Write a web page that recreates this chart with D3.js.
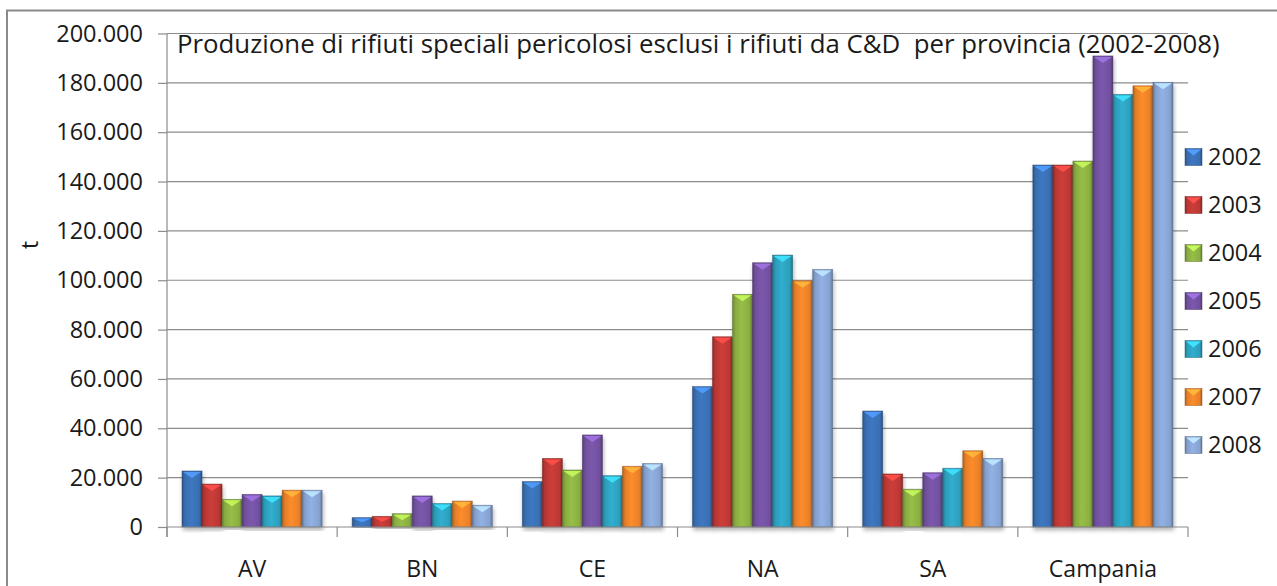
<!DOCTYPE html>
<html>
<head>
<meta charset="utf-8">
<script src="https://cdn.jsdelivr.net/npm/d3@7"></script>
<style>
    body { margin: 0; background: #fff; }
    svg text { font-family: "Open Sans", sans-serif; fill: #1a1a1a; }
</style>
</head>
<body>
<div id="chart"></div>
<script>
// data (tonnes)
var provinces = ["AV", "BN", "CE", "NA", "SA", "Campania"];
var years = ["2002", "2003", "2004", "2005", "2006", "2007", "2008"];
var v2002 = [22700, 3800, 18400, 56900, 47000, 146700];
var v2003 = [17400, 4300, 27800, 77100, 21500, 146700];
var v2004 = [11200, 5400, 23100, 94300, 15300, 148300];
var v2005 = [13200, 12600, 37300, 107100, 22000, 190900];
var v2006 = [12600, 9500, 20800, 110200, 23800, 175300];
var v2007 = [14900, 10500, 24600, 99800, 30900, 178800];
var v2008 = [14900, 8800, 25700, 104400, 27800, 180200];
var yTicks = [0, 20000, 40000, 60000, 80000, 100000, 120000, 140000, 160000, 180000, 200000];
var colours = ["#3b72b8", "#c23a36", "#8fb443", "#7553a4", "#2ea5c3", "#f0852a", "#8aa8d8"];
var title = "Produzione di rifiuti speciali pericolosi esclusi i rifiuti da C&D  per provincia (2002-2008)";

window.onload = function(){
    drawChart();
};

function drawChart(){
    var series = [v2002, v2003, v2004, v2005, v2006, v2007, v2008];

    var svg = d3.select("#chart").append("svg").attr("width", 1277).attr("height", 586);
    var defs = svg.append("defs");

    // plot area
    var left = 167, right = 1188, top = 33.5, bottom = 527;

    var xScale = d3.scaleBand()
                   .domain(provinces)
                   .range([left, right]);

    var xInner = d3.scaleBand()
                   .domain(years)
                   .range([0, xScale.bandwidth()])
                   .paddingOuter(0.75);

    var yScale = d3.scaleLinear()
                   .domain([0, 200000])
                   .range([bottom, top]);

    var it = d3.formatLocale({decimal: ",", thousands: ".", grouping: [3], currency: ["", "€"]});
    var fmt = it.format(",d");

    // gradients for the bevelled bars
    colours.forEach(function(c, i){
        var base = d3.color(c);
        var g = defs.append("linearGradient").attr("id", "grad" + i)
                    .attr("x1", 0).attr("x2", 1).attr("y1", 0).attr("y2", 0);
        g.append("stop").attr("offset", "0%").attr("stop-color", base.darker(0.9));
        g.append("stop").attr("offset", "14%").attr("stop-color", base.darker(0.15));
        g.append("stop").attr("offset", "45%").attr("stop-color", base.brighter(0.15));
        g.append("stop").attr("offset", "86%").attr("stop-color", base.darker(0.1));
        g.append("stop").attr("offset", "100%").attr("stop-color", base.darker(1.0));
    });

    var f = defs.append("filter").attr("id", "shadow")
                .attr("x", "-20%").attr("y", "-5%").attr("width", "140%").attr("height", "115%");
    f.append("feDropShadow").attr("dx", 1).attr("dy", 3).attr("stdDeviation", 2.2)
     .attr("flood-color", "#000").attr("flood-opacity", 0.3);

    // outer border
    svg.append("rect")
        .attr("x", 7).attr("y", 10.5)
        .attr("width", 1290).attr("height", 600)
        .attr("fill", "none")
        .attr("stroke", "#8a8a8a")
        .attr("stroke-width", 2);

    // gridlines
    svg.append("g").selectAll("line")
        .data(yTicks.filter(function(d){ return d > 0; }))
        .enter()
        .append("line")
        .attr("x1", left).attr("x2", right)
        .attr("y1", function(d){ return yScale(d); })
        .attr("y2", function(d){ return yScale(d); })
        .attr("stroke", "#8c8c8c")
        .attr("stroke-width", 1.2);

    // y axis
    var yAxis = svg.append("g")
        .attr("transform", "translate(" + left + ",0)")
        .call(d3.axisLeft(yScale).tickValues(yTicks).tickFormat(fmt).tickSize(9).tickPadding(15).tickSizeOuter(0));
    yAxis.select(".domain").remove();
    yAxis.selectAll("line").attr("stroke", "#8c8c8c").attr("stroke-width", 1.2);
    yAxis.selectAll("text").style("font-size", "23.5px").attr("fill", "#1a1a1a");
    svg.append("line")
        .attr("x1", left).attr("x2", left)
        .attr("y1", top).attr("y2", bottom + 10)
        .attr("stroke", "#8c8c8c").attr("stroke-width", 1.2);

    // axis title
    svg.append("text")
        .attr("transform", "translate(38,245) rotate(-90)")
        .style("text-anchor", "middle")
        .style("font-size", "23px")
        .text("t");

    // bars
    var groups = svg.append("g").selectAll("g")
        .data(provinces)
        .enter()
        .append("g")
        .attr("transform", function(d){ return "translate(" + xScale(d) + ",0)"; });

    var bars = groups.selectAll("g.bar")
        .data(function(d, i){
            return years.map(function(y, j){ return {year: y, idx: j, value: series[j][i]}; });
        })
        .enter()
        .append("g")
        .attr("class", "bar")
        .attr("filter", "url(#shadow)");

    var bw = xInner.bandwidth();

    bars.append("rect")
        .attr("x", function(d){ return xInner(d.year); })
        .attr("y", function(d){ return yScale(d.value); })
        .attr("width", bw)
        .attr("height", function(d){ return bottom - yScale(d.value); })
        .attr("fill", function(d){ return "url(#grad" + d.idx + ")"; })
        .attr("stroke", function(d){ return d3.color(colours[d.idx]).darker(1.3); })
        .attr("stroke-opacity", 0.6)
        .attr("stroke-width", 0.8);

    // light triangle on the top bevel
    bars.append("path")
        .attr("d", function(d){
            var x0 = xInner(d.year), y0 = yScale(d.value);
            var h = Math.min(7, (bottom - y0) / 2);
            return "M" + (x0 + 1) + "," + (y0 + 1) + "L" + (x0 + bw - 1) + "," + (y0 + 1) +
                   "L" + (x0 + bw / 2) + "," + (y0 + h) + "Z";
        })
        .attr("fill", function(d){ return d3.color(colours[d.idx]).brighter(0.9); })
        .attr("opacity", 0.9);

    // x axis
    svg.append("line")
        .attr("x1", left).attr("x2", right)
        .attr("y1", bottom).attr("y2", bottom)
        .attr("stroke", "#8c8c8c").attr("stroke-width", 1.2);

    svg.append("g").selectAll("line")
        .data(provinces.concat(["end"]))
        .enter()
        .append("line")
        .attr("x1", function(d){ return d === "end" ? right : xScale(d); })
        .attr("x2", function(d){ return d === "end" ? right : xScale(d); })
        .attr("y1", bottom).attr("y2", bottom + 10)
        .attr("stroke", "#8c8c8c").attr("stroke-width", 1.2);

    svg.append("g").selectAll("text")
        .data(provinces)
        .enter()
        .append("text")
        .attr("x", function(d){ return xScale(d) + xScale.bandwidth() / 2; })
        .attr("y", 577)
        .style("text-anchor", "middle")
        .style("font-size", "23px")
        .text(function(d){ return d; });

    // title inside the plot
    svg.append("text")
        .attr("x", 177)
        .attr("y", 53)
        .style("font-size", "25.8px")
        .style("white-space", "pre")
        .text(title);

    // legend
    var legend = svg.append("g").selectAll("g")
        .data(years)
        .enter()
        .append("g")
        .attr("transform", function(d, i){ return "translate(1185," + (148.5 + i * 48) + ")"; });

    legend.append("rect")
        .attr("width", 17).attr("height", 17)
        .attr("fill", function(d, i){ return "url(#grad" + i + ")"; })
        .attr("stroke", function(d, i){ return d3.color(colours[i]).darker(1.3); })
        .attr("stroke-opacity", 0.6)
        .attr("stroke-width", 0.8);

    legend.append("path")
        .attr("d", "M1,1L16,1L8.5,7Z")
        .attr("fill", function(d, i){ return d3.color(colours[i]).brighter(0.9); });

    legend.append("text")
        .attr("x", 23)
        .attr("y", 16.5)
        .style("font-size", "23.5px")
        .text(function(d){ return d; });
}
</script>
</body>
</html>
